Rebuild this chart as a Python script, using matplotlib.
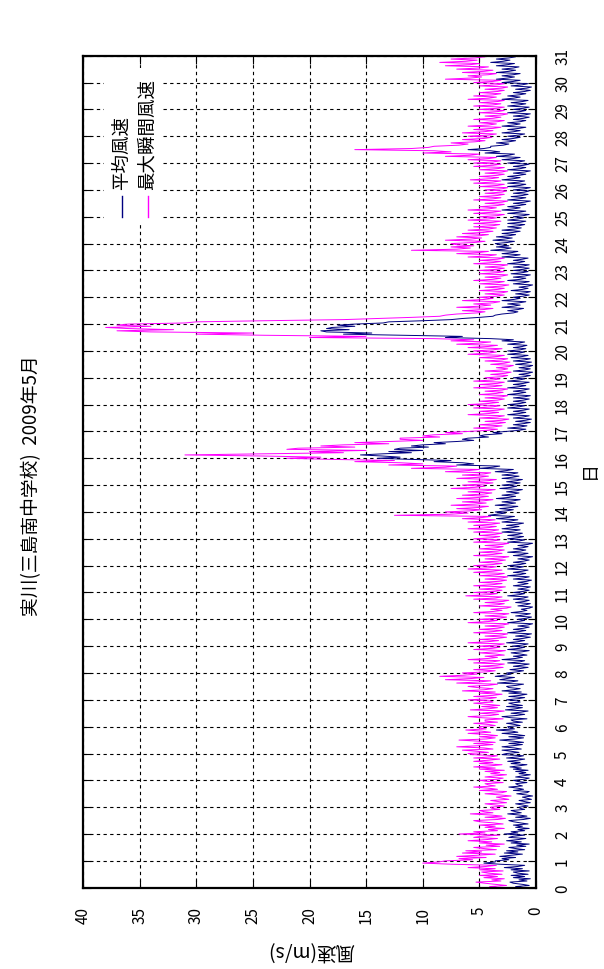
import numpy as np
import matplotlib
matplotlib.use("Agg")
import matplotlib.pyplot as plt

plt.rcParams['font.family'] = ['Noto Sans CJK JP', 'DejaVu Sans']

# -------------------------
# Data: hourly readings, one row per day (May 1 .. May 31) + final point
# -------------------------
title = "実川(三島南中学校)  2009年5月"
day_ticks = list(range(0, 32))
speed_ticks = [0, 5, 10, 15, 20, 25, 30, 35, 40]

gust_rows = [
    [3.2, 4.1, 2.6, 3.6, 4.5, 5.3, 3.1, 3.9, 2.8, 4.6, 3.4, 5.0, 3.0, 4.2, 4.8, 2.9, 5.0, 3.6, 6.0, 4.4, 3.5, 7.5, 10.0, 8.6],
    [8.0, 5.6, 6.8, 4.4, 7.0, 5.2, 3.6, 6.5, 4.8, 6.2, 3.5, 4.6, 5.5, 3.2, 4.4, 2.8, 5.0, 3.9, 6.0, 4.4, 3.4, 5.5, 4.8, 3.2],
    [6.8, 4.5, 5.5, 3.4, 4.2, 2.8, 4.5, 3.6, 5.0, 2.9, 3.8, 5.0, 5.5, 3.4, 2.7, 4.5, 3.0, 4.0, 5.8, 3.8, 4.6, 5.0, 3.2, 3.9],
    [4.0, 2.8, 3.6, 4.5, 2.6, 3.3, 4.0, 2.4, 3.0, 3.5, 2.2, 3.2, 4.5, 3.0, 2.6, 5.0, 3.4, 4.2, 5.5, 3.6, 4.2, 4.5, 2.9, 4.2],
    [5.0, 3.4, 2.9, 4.5, 3.6, 2.6, 4.0, 3.2, 4.5, 2.8, 5.0, 3.6, 5.5, 4.0, 3.0, 5.0, 3.8, 5.5, 4.2, 3.2, 5.5, 4.0, 3.4, 5.6],
    [6.0, 4.2, 5.2, 6.5, 3.8, 4.6, 7.0, 5.0, 3.8, 5.5, 3.6, 5.0, 6.8, 4.4, 3.6, 5.0, 3.4, 4.4, 6.0, 4.0, 4.8, 6.2, 4.4, 5.0],
    [5.0, 3.6, 4.2, 5.5, 3.4, 4.5, 4.5, 2.9, 4.8, 6.0, 4.0, 3.3, 5.0, 3.6, 2.8, 5.8, 4.2, 3.4, 4.8, 3.2, 4.4, 5.5, 3.8, 4.0],
    [6.0, 4.2, 3.5, 5.5, 3.8, 3.0, 5.0, 3.6, 6.5, 4.6, 3.8, 5.2, 6.0, 4.2, 3.4, 7.0, 5.0, 4.0, 8.0, 5.8, 4.6, 8.5, 6.4, 5.2],
    [6.5, 4.4, 3.6, 5.5, 3.8, 2.9, 5.0, 3.4, 2.8, 5.5, 3.8, 3.2, 6.0, 4.2, 3.4, 4.5, 2.8, 3.6, 5.0, 3.4, 2.7, 5.5, 3.9, 3.2],
    [5.0, 3.4, 2.8, 6.0, 4.2, 3.3, 5.0, 3.4, 2.6, 4.5, 3.0, 2.5, 5.5, 3.8, 3.0, 5.0, 3.4, 2.8, 4.5, 2.9, 2.4, 6.0, 4.2, 3.4],
    [5.0, 3.2, 2.6, 4.5, 3.0, 2.4, 5.5, 3.8, 3.0, 4.0, 2.6, 2.2, 5.0, 3.4, 2.8, 4.5, 2.9, 2.4, 5.5, 3.6, 3.0, 6.2, 4.2, 3.4],
    [5.5, 3.6, 3.0, 5.0, 3.4, 2.7, 5.5, 3.8, 3.0, 5.0, 3.2, 2.6, 4.5, 3.0, 2.5, 5.0, 3.4, 2.8, 5.5, 3.8, 3.0, 6.0, 4.2, 3.5],
    [5.5, 3.8, 3.0, 5.0, 3.4, 2.7, 4.5, 3.0, 2.4, 5.5, 3.8, 3.0, 5.0, 3.4, 2.8, 5.0, 3.5, 2.9, 4.5, 2.9, 2.4, 5.5, 3.8, 3.2],
    [5.5, 3.8, 3.2, 5.0, 3.6, 3.0, 5.5, 3.9, 3.3, 6.0, 4.2, 3.5, 5.5, 3.9, 3.2, 6.0, 4.4, 3.6, 6.5, 4.8, 4.0, 12.5, 7.5, 6.0],
    [8.0, 5.8, 4.8, 7.0, 5.0, 4.2, 7.5, 5.4, 4.4, 6.5, 4.6, 3.8, 7.0, 5.0, 4.2, 6.5, 4.6, 3.9, 6.0, 4.4, 3.6, 7.5, 5.4, 4.5],
    [6.5, 4.6, 3.8, 6.0, 4.2, 3.5, 7.0, 5.0, 4.2, 6.5, 4.6, 4.0, 8.0, 6.0, 5.0, 11.0, 8.0, 7.0, 13.0, 10.0, 12.0, 16.0, 12.5, 18.0],
    [22.0, 19.0, 24.0, 31.0, 24.0, 17.0, 20.0, 15.0, 22.0, 21.0, 16.0, 19.0, 17.0, 13.0, 16.0, 13.0, 10.0, 12.0, 12.0, 8.5, 10.0, 9.0, 6.5, 8.0],
    [6.0, 4.2, 3.4, 5.5, 3.8, 3.0, 5.0, 3.4, 2.7, 4.5, 3.0, 2.4, 5.0, 3.4, 2.8, 6.0, 4.2, 3.3, 5.0, 3.4, 2.8, 5.5, 3.8, 3.2],
    [6.0, 4.2, 3.3, 5.0, 3.4, 2.8, 4.5, 3.0, 2.5, 5.0, 3.5, 2.9, 4.5, 3.0, 2.5, 5.5, 3.8, 3.0, 5.0, 3.4, 2.8, 5.5, 3.8, 3.2],
    [4.5, 3.0, 2.5, 4.0, 2.7, 2.2, 4.5, 3.0, 2.5, 3.5, 2.4, 2.0, 4.0, 2.8, 2.3, 4.5, 3.0, 2.5, 5.0, 3.4, 2.8, 6.0, 4.2, 3.5],
    [5.5, 3.8, 3.0, 6.0, 4.2, 3.4, 7.0, 5.0, 4.0, 7.5, 5.5, 9.0, 20.0, 15.0, 24.0, 30.0, 25.0, 34.0, 37.0, 32.0, 36.0, 38.0, 34.0, 37.0],
    [36.0, 31.0, 30.0, 24.0, 17.0, 14.0, 11.0, 8.5, 8.0, 7.0, 5.2, 4.5, 6.5, 4.6, 3.8, 7.0, 5.0, 4.0, 5.5, 3.8, 3.2, 6.5, 4.6, 3.8],
    [5.0, 3.4, 2.8, 4.5, 3.0, 2.5, 5.0, 3.4, 2.8, 4.5, 3.0, 2.4, 5.0, 3.4, 2.8, 5.5, 3.8, 3.1, 4.5, 3.0, 2.5, 5.0, 3.4, 2.8],
    [5.0, 3.4, 2.8, 4.5, 3.1, 2.5, 5.5, 3.8, 3.1, 5.0, 3.4, 2.8, 6.0, 4.2, 3.5, 7.0, 5.0, 4.2, 11.0, 7.0, 5.8, 7.5, 5.5, 7.0],
    [7.5, 5.4, 4.5, 8.0, 5.8, 4.8, 7.0, 5.0, 4.2, 6.5, 4.6, 3.8, 6.0, 4.2, 3.5, 5.5, 3.8, 3.2, 5.5, 3.8, 3.1, 6.0, 4.2, 3.5],
    [5.0, 3.4, 2.8, 5.5, 3.8, 3.1, 6.0, 4.2, 3.5, 5.0, 3.4, 2.8, 4.5, 3.0, 2.5, 5.5, 3.8, 3.1, 5.0, 3.4, 2.8, 4.5, 3.0, 2.6],
    [4.5, 3.0, 2.5, 5.0, 3.4, 2.8, 5.5, 3.8, 3.1, 5.8, 4.0, 3.3, 5.0, 3.4, 2.8, 4.5, 3.0, 2.5, 5.0, 3.4, 2.8, 5.5, 3.8, 3.1],
    [5.5, 3.8, 3.1, 6.0, 4.2, 3.5, 8.0, 5.8, 5.0, 10.0, 7.5, 9.0, 16.0, 11.0, 9.5, 9.0, 6.8, 6.0, 7.5, 5.4, 4.5, 6.5, 4.6, 3.9],
    [6.0, 4.2, 3.5, 6.5, 4.6, 3.8, 5.5, 3.8, 3.1, 6.0, 4.2, 3.5, 5.0, 3.4, 2.8, 5.5, 3.8, 3.1, 4.5, 3.0, 2.5, 5.0, 3.4, 2.8],
    [5.0, 3.4, 2.8, 5.5, 3.8, 3.1, 5.0, 3.4, 2.8, 6.0, 4.2, 3.5, 5.5, 3.8, 3.1, 5.0, 3.4, 2.8, 4.5, 3.0, 2.5, 5.0, 3.4, 2.8],
    [5.5, 3.8, 3.1, 8.0, 5.8, 4.8, 6.0, 4.2, 3.5, 6.5, 4.6, 3.8, 7.0, 5.0, 4.2, 8.0, 5.8, 5.0, 8.5, 6.2, 5.2, 7.5, 5.4, 4.5],
    [6.0],
]

mean_rows = [
    [1.0, 1.8, 0.6, 1.2, 2.0, 2.3, 0.8, 1.5, 0.5, 2.0, 1.0, 2.2, 0.7, 1.6, 2.0, 0.6, 2.2, 1.2, 2.8, 1.6, 1.0, 3.2, 4.6, 3.6],
    [3.6, 2.4, 3.0, 1.8, 3.2, 2.2, 1.2, 2.8, 1.6, 2.6, 1.0, 1.8, 2.4, 0.9, 1.7, 0.6, 2.2, 1.3, 2.6, 1.6, 0.9, 2.4, 2.0, 1.0],
    [2.8, 1.6, 2.2, 1.0, 1.6, 0.6, 1.8, 1.2, 2.0, 0.7, 1.4, 2.0, 2.4, 1.1, 0.5, 1.8, 0.8, 1.5, 2.5, 1.3, 1.8, 2.2, 1.0, 1.4],
    [1.5, 0.7, 1.2, 1.8, 0.5, 1.0, 1.5, 0.4, 0.8, 1.2, 0.3, 0.9, 1.7, 0.8, 0.6, 2.0, 1.1, 1.6, 2.4, 1.2, 1.6, 1.8, 0.8, 1.6],
    [2.0, 1.0, 0.6, 1.8, 1.2, 0.5, 1.5, 0.9, 1.8, 0.7, 2.0, 1.3, 2.3, 1.5, 0.8, 2.2, 1.4, 2.5, 1.6, 1.0, 2.6, 1.6, 1.1, 3.0],
    [2.6, 1.5, 2.2, 3.0, 1.3, 1.9, 3.0, 2.0, 1.2, 2.4, 1.1, 2.0, 3.2, 1.8, 1.1, 2.4, 1.0, 1.8, 3.0, 1.6, 2.1, 3.5, 1.9, 2.4],
    [2.5, 1.4, 1.9, 2.6, 1.2, 2.0, 2.2, 0.8, 2.2, 3.0, 1.7, 1.0, 2.2, 1.3, 0.7, 2.7, 1.8, 1.2, 2.6, 1.2, 2.0, 2.4, 1.4, 1.6],
    [2.6, 1.6, 1.0, 2.4, 1.4, 0.8, 2.4, 1.3, 3.0, 2.0, 1.4, 2.4, 2.6, 1.7, 1.1, 3.4, 2.2, 1.6, 3.2, 2.6, 1.9, 3.6, 2.8, 2.2],
    [2.6, 1.7, 1.1, 2.3, 1.4, 0.7, 2.0, 1.2, 0.6, 2.5, 1.4, 1.0, 3.0, 1.8, 1.2, 2.0, 0.8, 1.4, 2.2, 1.2, 0.6, 2.5, 1.5, 1.0],
    [2.1, 1.2, 0.7, 2.6, 1.6, 1.0, 2.0, 1.1, 0.5, 1.8, 0.9, 0.4, 2.5, 1.5, 0.9, 2.0, 1.1, 0.6, 1.6, 0.7, 0.3, 2.5, 1.6, 1.0],
    [1.6, 0.8, 0.4, 1.8, 1.0, 0.5, 2.2, 1.3, 0.8, 1.3, 0.6, 0.3, 1.6, 0.9, 0.5, 1.8, 1.0, 0.6, 2.0, 1.1, 0.7, 2.5, 1.5, 1.0],
    [2.0, 1.1, 0.6, 1.6, 0.9, 0.5, 2.0, 1.2, 0.7, 1.6, 0.8, 0.4, 2.0, 1.1, 0.6, 2.5, 1.4, 0.9, 2.0, 1.2, 0.7, 2.5, 1.6, 1.1],
    [2.5, 1.4, 0.9, 2.0, 1.1, 0.6, 1.6, 0.8, 0.3, 2.0, 1.2, 0.7, 2.5, 1.4, 0.9, 2.0, 1.2, 0.7, 1.6, 0.7, 0.3, 2.5, 1.5, 1.0],
    [2.5, 1.6, 1.1, 2.5, 1.6, 1.2, 3.0, 2.0, 1.4, 3.0, 2.1, 1.5, 2.6, 1.6, 1.1, 3.0, 2.2, 1.6, 3.5, 2.5, 1.9, 4.2, 3.4, 2.7],
    [3.6, 2.6, 2.0, 3.2, 2.2, 1.6, 3.6, 2.5, 1.8, 3.0, 2.0, 1.4, 3.5, 2.4, 1.8, 3.0, 2.0, 1.5, 2.6, 1.7, 1.2, 3.2, 2.2, 1.7],
    [3.0, 2.0, 1.4, 2.6, 1.7, 1.2, 3.0, 2.1, 1.5, 3.0, 2.1, 1.6, 3.6, 2.6, 2.0, 5.0, 3.8, 3.2, 7.0, 5.5, 6.5, 9.0, 7.5, 11.0],
    [14.0, 12.0, 13.5, 15.5, 13.5, 11.0, 13.0, 10.0, 12.5, 12.0, 9.5, 11.0, 10.0, 8.0, 9.0, 7.0, 5.5, 6.5, 6.0, 4.2, 5.0, 4.5, 3.0, 3.8],
    [2.6, 1.5, 0.9, 2.5, 1.4, 0.8, 2.0, 1.1, 0.5, 1.8, 0.9, 0.4, 2.0, 1.1, 0.6, 2.5, 1.5, 0.9, 2.0, 1.1, 0.6, 2.5, 1.5, 1.0],
    [2.5, 1.4, 0.9, 2.0, 1.1, 0.6, 2.0, 1.0, 0.5, 2.5, 1.5, 0.9, 2.0, 1.1, 0.6, 2.5, 1.5, 0.9, 2.0, 1.1, 0.6, 2.5, 1.5, 1.0],
    [2.0, 1.0, 0.5, 1.5, 0.7, 0.3, 2.0, 1.0, 0.5, 1.5, 0.6, 0.3, 1.8, 0.9, 0.4, 2.0, 1.0, 0.5, 2.2, 1.2, 0.7, 2.5, 1.5, 1.0],
    [2.5, 1.4, 0.9, 2.0, 1.2, 0.8, 2.5, 1.5, 1.0, 3.0, 2.0, 4.0, 8.0, 6.5, 12.0, 17.0, 14.5, 18.5, 19.0, 16.5, 18.5, 18.0, 16.0, 17.5],
    [16.0, 13.5, 13.0, 10.0, 7.5, 6.5, 5.0, 3.8, 3.6, 3.0, 2.0, 1.6, 2.5, 1.6, 1.1, 3.0, 2.0, 1.4, 2.5, 1.5, 0.9, 3.0, 2.0, 1.4],
    [2.0, 1.1, 0.6, 1.8, 0.9, 0.5, 2.2, 1.2, 0.7, 1.5, 0.7, 0.3, 2.0, 1.1, 0.6, 2.5, 1.4, 0.9, 2.0, 1.0, 0.5, 2.2, 1.2, 0.7],
    [2.0, 1.1, 0.6, 2.0, 1.1, 0.6, 2.5, 1.5, 1.0, 2.0, 1.2, 0.7, 3.0, 2.0, 1.4, 3.0, 2.1, 1.6, 4.0, 2.8, 2.2, 3.5, 2.4, 3.2],
    [3.6, 2.5, 1.9, 3.8, 2.8, 2.1, 3.5, 2.4, 1.8, 3.0, 2.0, 1.4, 3.0, 1.9, 1.3, 2.5, 1.5, 1.0, 2.5, 1.4, 0.9, 2.5, 1.6, 1.1],
    [2.0, 1.1, 0.6, 2.5, 1.5, 0.9, 3.0, 2.0, 1.4, 2.5, 1.5, 0.9, 2.0, 1.0, 0.5, 2.5, 1.5, 0.9, 2.2, 1.2, 0.7, 2.0, 1.0, 0.6],
    [2.0, 1.0, 0.5, 2.5, 1.4, 0.9, 2.5, 1.5, 1.0, 3.0, 2.0, 1.4, 2.5, 1.5, 0.9, 2.0, 1.0, 0.5, 2.5, 1.4, 0.9, 2.0, 1.1, 0.6],
    [2.5, 1.5, 1.0, 3.0, 2.0, 1.4, 3.5, 2.4, 1.9, 4.5, 3.2, 4.0, 6.0, 4.6, 4.0, 4.0, 2.9, 2.4, 3.5, 2.4, 1.8, 3.0, 2.0, 1.4],
    [2.5, 1.5, 1.0, 3.0, 2.0, 1.4, 2.5, 1.5, 0.9, 3.0, 2.0, 1.4, 2.5, 1.4, 0.9, 2.0, 1.1, 0.6, 2.0, 1.0, 0.5, 2.5, 1.4, 0.9],
    [2.0, 1.1, 0.6, 2.5, 1.5, 0.9, 2.2, 1.2, 0.7, 3.0, 2.0, 1.4, 2.5, 1.5, 0.9, 2.0, 1.0, 0.5, 1.8, 0.8, 0.4, 2.2, 1.2, 0.7],
    [3.0, 2.0, 1.4, 3.5, 2.5, 1.9, 3.0, 2.0, 1.4, 3.5, 2.4, 1.8, 3.0, 2.0, 1.5, 3.5, 2.5, 1.9, 4.0, 2.9, 2.3, 3.5, 2.4, 1.8],
    [3.0],
]

gust = [v for row in gust_rows for v in row]
mean = [v for row in mean_rows for v in row]
days = np.arange(len(gust)) / 24.0

# -------------------------
# Plot (chart drawn turned on its side: days run upward, speed runs leftward)
# -------------------------
fig = plt.figure(figsize=(6.04, 9.70), dpi=100)
ax = fig.add_axes([83/604, 1 - 888.7/970, 453/604, 832/970])

ax.plot(gust, days, color='#ff00ff', lw=0.7)
ax.plot(mean, days, color='#000080', lw=0.7)

ax.set_xlim(40, 0)
ax.set_ylim(0, 31)

ax.set_xticks(speed_ticks)
ax.set_xticklabels([str(v) for v in speed_ticks], rotation=90)
ax.set_yticks(day_ticks)
ax.set_yticklabels([str(v) for v in day_ticks], rotation=90, va='center')
ax.yaxis.tick_right()
ax.tick_params(axis='both', direction='in', length=6, width=0.8, labelsize=11,
               top=True, bottom=True, left=True, right=True)
ax.tick_params(axis='x', pad=13)
ax.tick_params(axis='y', pad=13)

ax.grid(True, color='black', linestyle=(0, (3, 3)), linewidth=0.8)
for s in ax.spines.values():
    s.set_linewidth(1.6)

# legend (turned, drawn by hand in axes coordinates)
ax.add_patch(plt.Rectangle((0.047, 0.80), 0.125, 0.185, transform=ax.transAxes,
                           facecolor='white', edgecolor='none', zorder=3))
ax.plot([0.086, 0.086], [0.806, 0.831], transform=ax.transAxes,
        color='#000080', lw=1.0, zorder=4)
ax.plot([0.143, 0.143], [0.806, 0.831], transform=ax.transAxes,
        color='#ff00ff', lw=1.0, zorder=4)
ax.text(0.086, 0.84, '平均風速', transform=ax.transAxes, rotation=90,
        ha='center', va='bottom', fontsize=13.3, zorder=4)
ax.text(0.143, 0.84, '最大瞬間風速', transform=ax.transAxes, rotation=90,
        ha='center', va='bottom', fontsize=13.3, zorder=4)

fig.text(32/604, 1 - 486/970, title, rotation=90, ha='center', va='center', fontsize=13.5)
fig.text(311/604, 1 - 950/970, '風速(m/s)', rotation=180, ha='center', va='center', fontsize=14)
fig.text(590/604, 1 - 470/970, '日', rotation=90, ha='center', va='center', fontsize=13)

fig.savefig('out.png', dpi=100)
